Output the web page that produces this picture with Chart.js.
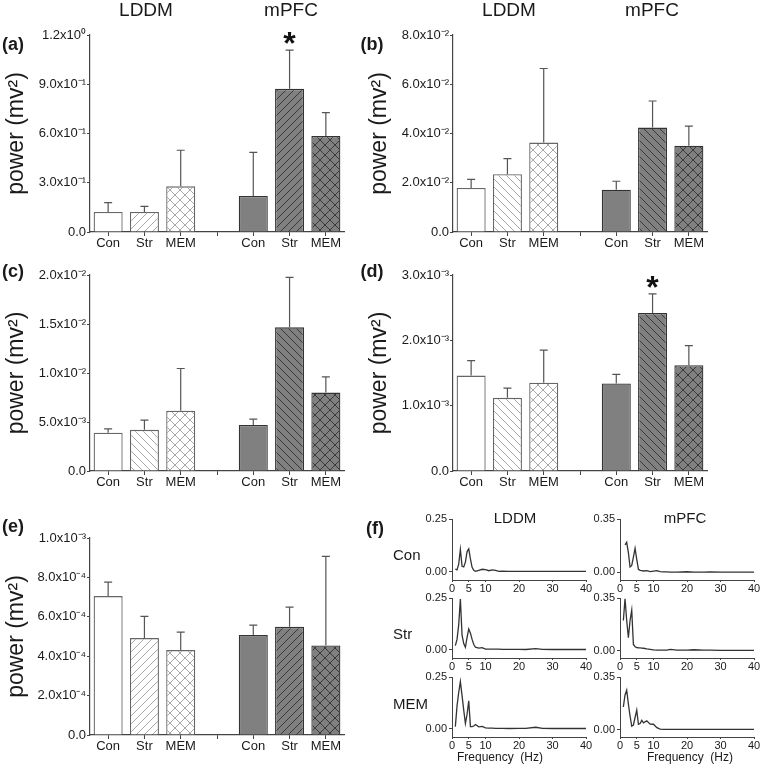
<!DOCTYPE html>
<html>
<head>
<meta charset="utf-8">
<script src="https://cdn.jsdelivr.net/npm/chart.js@4.4.1/dist/chart.umd.min.js"></script>
<style>
  body { margin: 0; background: #fff; width: 761px; height: 766px; position: relative; overflow: hidden;
         font-family: "Liberation Sans", Arial, sans-serif; color: #1a1a1a; }
  .lbl { position: absolute; white-space: pre; line-height: 1; transform: translate(-50%, -50%); }
  .row { position: absolute; white-space: pre; line-height: 1; transform: translate(0, -50%); }
  canvas { position: absolute; }
</style>
</head>
<body>
<script>
// bar panels: slot 3 is the empty gap between the two regions
const groups = ['Con', 'Str', 'MEM', '', 'Con', 'Str', 'MEM'];

// (a)
const powerA = [0.122, 0.122, 0.278, null, 0.22, 0.872, 0.585];
const errA   = [0.057, 0.034, 0.22, null, 0.265, 0.236, 0.142];
const yTicksA  = [0, 0.3, 0.6, 0.9, 1.2];
const yLabelsA = ['0.0', '3.0x10⁻¹', '6.0x10⁻¹', '9.0x10⁻¹', '1.2x10⁰'];

// (b)
const powerB = [0.0179, 0.0235, 0.0363, null, 0.0172, 0.0424, 0.035];
const errB   = [0.0035, 0.0063, 0.0301, null, 0.0034, 0.0108, 0.008];
const yTicksB  = [0, 0.02, 0.04, 0.06, 0.08];
const yLabelsB = ['0.0', '2.0x10⁻²', '4.0x10⁻²', '6.0x10⁻²', '8.0x10⁻²'];

// (c)
const powerC = [0.0039, 0.0042, 0.00616, null, 0.0047, 0.01466, 0.008];
const errC   = [0.0004, 0.001, 0.0043, null, 0.0006, 0.0051, 0.0016];
const yTicksC  = [0, 0.005, 0.01, 0.015, 0.02];
const yLabelsC = ['0.0', '5.0x10⁻³', '1.0x10⁻²', '1.5x10⁻²', '2.0x10⁻²'];

// (d)
const powerD = [0.00146, 0.00112, 0.00135, null, 0.00134, 0.00242, 0.00162];
const errD   = [0.00023, 0.00015, 0.0005, null, 0.00014, 0.00029, 0.0003];
const yTicksD  = [0, 0.001, 0.002, 0.003];
const yLabelsD = ['0.0', '1.0x10⁻³', '2.0x10⁻³', '3.0x10⁻³'];

// (e)
const powerE = [0.000705, 0.000492, 0.000431, null, 0.000507, 0.000549, 0.000454];
const errE   = [0.000071, 0.00011, 0.000091, null, 0.000051, 0.0001, 0.000453];
const yTicksE  = [0, 0.0002, 0.0004, 0.0006, 0.0008, 0.001];
const yLabelsE = ['0.0', '2.0x10⁻⁴', '4.0x10⁻⁴', '6.0x10⁻⁴', '8.0x10⁻⁴', '1.0x10⁻³'];

// (f) power spectra
const freqHz   = [0.5, 1, 1.5, 2, 2.5, 3, 3.5, 4, 4.5, 5, 5.5, 6, 6.5, 7, 8, 9, 10, 11, 12, 13, 14, 15, 17, 20, 22, 25, 27, 30, 33, 35, 38, 40];
const lddmCon  = [null, 0.012, 0.008, 0.035, 0.105, 0.025, 0.022, 0.045, 0.095, 0.108, 0.06, 0.02, 0.006, 0.001, 0.006, 0.011, 0.009, 0.004, 0.008, 0.006, 0.001, 0.002, 0.001, 0.001, 0.001, 0.001, 0.001, 0.001, 0.001, 0.001, 0.001, 0.001];
const mpfcCon  = [null, null, 0.18, 0.197, 0.13, 0.035, 0.045, 0.1, 0.158, 0.085, 0.02, 0.013, 0.011, 0.009, 0.011, 0.005, 0.008, 0.011, 0.005, 0.003, 0.003, 0.002, 0.002, 0.004, 0.002, 0.001, 0.003, 0.001, 0.001, 0.001, 0.001, 0.001];
const lddmStr  = [null, 0.02, 0.05, 0.12, 0.245, 0.07, 0.03, 0.012, 0.06, 0.1, 0.08, 0.05, 0.025, 0.012, 0.008, 0.01, 0.003, 0.003, 0.003, 0.003, 0.003, 0.002, 0.002, 0.002, 0.001, 0.005, 0.002, 0.001, 0.001, 0.001, 0.001, 0.001];
const mpfcStr  = [null, 0.2, 0.345, 0.2, 0.085, 0.2, 0.27, 0.04, 0.025, 0.02, 0.018, 0.017, 0.016, 0.015, 0.011, 0.008, 0.004, 0.002, 0.002, 0.002, 0.003, 0.007, 0.002, 0.002, 0.005, 0.002, 0.002, 0.001, 0.001, 0.001, 0.001, 0.001];
const lddmMem  = [null, 0.01, 0.11, 0.175, 0.228, 0.16, 0.09, 0.025, 0.07, 0.135, 0.01, 0.01, 0.013, 0.02, 0.009, 0.011, 0.004, 0.003, 0.003, 0.002, 0.002, 0.002, 0.001, 0.002, 0.002, 0.007, 0.002, 0.001, 0.001, 0.001, 0.001, 0.001];
const mpfcMem  = [null, 0.15, 0.23, 0.262, 0.17, 0.09, 0.022, 0.03, 0.08, 0.13, 0.035, 0.04, 0.062, 0.044, 0.058, 0.036, 0.035, 0.012, 0.002, 0.001, 0.001, 0.001, 0.001, 0.001, 0.001, 0.001, 0.001, 0.001, 0.001, 0.001, 0.001, 0.001];
const fTicksX = [0, 5, 10, 20, 30, 40];
const fTicksLddm = [0, 0.25];
const fLabelsLddm = ['0.00', '0.25'];
const fTicksMpfc = [0, 0.35];
const fLabelsMpfc = ['0.00', '0.35'];

Chart.defaults.font.family = '"Liberation Sans", Arial, sans-serif';
Chart.defaults.color = '#1a1a1a';

const AXIS = '#444';

function addCanvas(left, top, width, height) {
    const cv = document.createElement('canvas');
    cv.width = width; cv.height = height;
    cv.style.left = left + 'px'; cv.style.top = top + 'px';
    document.body.appendChild(cv);
    return cv;
}

function addText(text, x, y, size, bold, cls) {
    const d = document.createElement('div');
    d.className = cls || 'lbl';
    d.textContent = text;
    d.style.left = x + 'px'; d.style.top = y + 'px';
    d.style.fontSize = size + 'px';
    if (bold) d.style.fontWeight = 'bold';
    document.body.appendChild(d);
}

// diagonal hatch fill
function hatch(bg, ink, dirs, size) {
    const c = document.createElement('canvas');
    c.width = c.height = size;
    const g = c.getContext('2d');
    g.fillStyle = bg; g.fillRect(0, 0, size, size);
    g.strokeStyle = ink; g.lineWidth = 1;
    for (const d of dirs) {
        for (let k = -1; k <= 1; k++) {
            g.beginPath();
            if (d === '/') { g.moveTo(k * size, size); g.lineTo(k * size + size, 0); }
            else { g.moveTo(k * size, 0); g.lineTo(k * size + size, size); }
            g.stroke();
        }
    }
    return g.createPattern(c, 'repeat');
}

// upper error whiskers and significance stars
const errorBars = {
    id: 'errorBars',
    afterDatasetsDraw(chart, args, opts) {
        const { ctx } = chart;
        const y = chart.scales.y;
        const meta = chart.getDatasetMeta(0);
        const vals = chart.data.datasets[0].data;
        ctx.save();
        ctx.strokeStyle = '#555';
        ctx.lineWidth = 1.2;
        meta.data.forEach((bar, i) => {
            if (vals[i] == null) return;
            const top = y.getPixelForValue(vals[i] + opts.errors[i]);
            ctx.beginPath();
            ctx.moveTo(bar.x, bar.y); ctx.lineTo(bar.x, top);
            ctx.moveTo(bar.x - 4, top); ctx.lineTo(bar.x + 4, top);
            ctx.stroke();
        });
        ctx.fillStyle = '#111';
        ctx.font = 'bold 32px "Liberation Sans", Arial, sans-serif';
        ctx.textAlign = 'center';
        ctx.textBaseline = 'alphabetic';
        (opts.stars || []).forEach(i => {
            const top = y.getPixelForValue(vals[i] + opts.errors[i]);
            ctx.fillText('*', meta.data[i].x, top + 4);
        });
        ctx.restore();
    }
};

function barPanel(plot, values, errors, yTicks, yLabels, slash, stars) {
    const left = plot.x0 - 90, top = plot.y0 - 35;
    const width = plot.x1 + 12 - left, height = plot.y1 + 24 - top;
    const cv = addCanvas(left, top, width, height);
    const back = slash === '/' ? '/' : '\\';
    const fills = ['#ffffff', hatch('#ffffff', '#a8a8a8', [back], 8), hatch('#ffffff', '#a8a8a8', ['/', '\\'], 10), null,
                   '#808080', hatch('#808080', '#3a3a3a', [back], 8), hatch('#808080', '#3a3a3a', ['/', '\\'], 10)];
    const edges = ['#666', '#666', '#666', null, '#333', '#333', '#333'];

    new Chart(cv, {
        type: 'bar',
        data: {
            labels: groups,
            datasets: [{
                data: values,
                backgroundColor: fills,
                borderColor: edges,
                borderWidth: 1.3,
                barPercentage: 0.8,
                categoryPercentage: 1
            }]
        },
        options: {
            responsive: false,
            animation: false,
            layout: { padding: { top: 35, right: 12, left: 0, bottom: 0 } },
            plugins: {
                legend: { display: false },
                tooltip: { enabled: false },
                errorBars: { errors: errors, stars: stars }
            },
            scales: {
                x: {
                    offset: true,
                    grid: { offset: false, drawOnChartArea: false, tickLength: 4, color: AXIS },
                    border: { color: AXIS, width: 1.2 },
                    ticks: { font: { size: 13 }, padding: 0, maxRotation: 0, autoSkip: false },
                    afterFit: s => { s.height = 24; }
                },
                y: {
                    min: 0,
                    max: yTicks[yTicks.length - 1],
                    afterBuildTicks: ax => { ax.ticks = yTicks.map(v => ({ value: v })); },
                    grid: { drawOnChartArea: false, tickLength: 3, color: AXIS },
                    border: { color: AXIS, width: 1.2 },
                    ticks: { font: { size: 13 }, padding: 1, callback: (v, i) => yLabels[i] },
                    title: { display: true, text: 'power (mv²)', font: { size: 23 }, padding: { top: 3, bottom: 0 } },
                    afterFit: s => { s.width = 90; }
                }
            }
        },
        plugins: [errorBars]
    });
}

function spectrum(plot, values, yMin, yTicks, yLabels) {
    const left = plot.x0 - 40, top = plot.y0 - 12;
    const cv = addCanvas(left, top, plot.x1 + 8 - left, plot.y1 + 14 - top);
    const points = freqHz.map((f, i) => ({ x: f, y: values[i] })).filter(p => p.y !== null);

    new Chart(cv, {
        type: 'line',
        data: {
            datasets: [{
                data: points,
                borderColor: '#333',
                borderWidth: 1.3,
                pointRadius: 0,
                tension: 0
            }]
        },
        options: {
            responsive: false,
            animation: false,
            layout: { padding: { top: 12, right: 8, left: 0, bottom: 0 } },
            plugins: { legend: { display: false }, tooltip: { enabled: false } },
            scales: {
                x: {
                    type: 'linear', min: 0, max: 40,
                    afterBuildTicks: ax => { ax.ticks = fTicksX.map(v => ({ value: v })); },
                    grid: { drawOnChartArea: false, tickLength: 2, color: AXIS },
                    border: { color: AXIS },
                    ticks: { font: { size: 11 }, padding: 0, maxRotation: 0, autoSkip: false },
                    afterFit: s => { s.height = 14; }
                },
                y: {
                    min: yMin, max: yTicks[yTicks.length - 1],
                    afterBuildTicks: ax => { ax.ticks = yTicks.map(v => ({ value: v })); },
                    grid: { drawOnChartArea: false, tickLength: 3, color: AXIS },
                    border: { color: AXIS },
                    ticks: { font: { size: 11 }, padding: 2, callback: (v, i) => yLabels[i] },
                    afterFit: s => { s.width = 40; }
                }
            }
        }
    });
}

// bar panels
barPanel({ x0: 90, x1: 344.5, y0: 35, y1: 232 }, powerA, errA, yTicksA, yLabelsA, '/', [5]);
barPanel({ x0: 453, x1: 707, y0: 35, y1: 232 }, powerB, errB, yTicksB, yLabelsB, '\\', []);
barPanel({ x0: 90, x1: 344.5, y0: 275, y1: 471 }, powerC, errC, yTicksC, yLabelsC, '\\', []);
barPanel({ x0: 453, x1: 707, y0: 275, y1: 471 }, powerD, errD, yTicksD, yLabelsD, '\\', [5]);
barPanel({ x0: 90, x1: 344.5, y0: 538, y1: 735 }, powerE, errE, yTicksE, yLabelsE, '/', []);

// spectra, LDDM left and mPFC right
const colL = { x0: 452, x1: 586 }, colR = { x0: 620, x1: 754 };
const rows = [[519, 580], [598, 658], [677, 737]];
const lddmRows = [lddmCon, lddmStr, lddmMem];
const mpfcRows = [mpfcCon, mpfcStr, mpfcMem];
rows.forEach((r, k) => {
    spectrum({ x0: colL.x0, x1: colL.x1, y0: r[0], y1: r[1] }, lddmRows[k], -0.04, fTicksLddm, fLabelsLddm);
    spectrum({ x0: colR.x0, x1: colR.x1, y0: r[0], y1: r[1] }, mpfcRows[k], -0.05, fTicksMpfc, fLabelsMpfc);
});

// headers and panel letters
addText('LDDM', 146, 8.5, 19);
addText('mPFC', 291, 8.5, 19);
addText('LDDM', 509, 8.5, 19);
addText('mPFC', 652, 8.5, 19);
addText('(a)', 13, 43.5, 18, true);
addText('(b)', 372, 43.5, 18, true);
addText('(c)', 13, 271, 18, true);
addText('(d)', 372, 271, 18, true);
addText('(e)', 13, 526, 18, true);
addText('(f)', 375, 528, 18, true);
addText('LDDM', 515, 517, 15);
addText('mPFC', 685, 517, 15);
addText('Con', 393, 554, 15, false, 'row');
addText('Str', 393, 633, 15, false, 'row');
addText('MEM', 393, 703, 15, false, 'row');
addText('Frequency  (Hz)', 500, 757, 12);
addText('Frequency  (Hz)', 690, 757, 12);
</script>
</body>
</html>
